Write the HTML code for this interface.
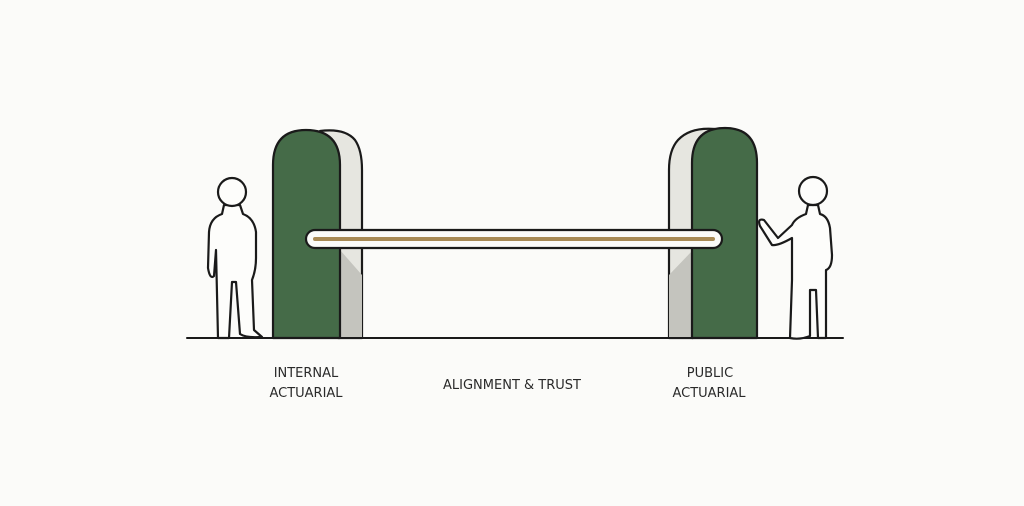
<!DOCTYPE html>
<html><head><style>
html,body{margin:0;padding:0;background:#fbfbf9;}
svg{display:block;}
text{font-family:"DejaVu Sans","Liberation Sans",sans-serif;font-size:13px;fill:#2a2a2a;text-anchor:middle;}
</style></head><body>
<svg width="1024" height="506" viewBox="0 0 1024 506" xmlns="http://www.w3.org/2000/svg">
<rect width="1024" height="506" fill="#fbfbf9"/>
<g stroke="#1a1a1a" stroke-width="2.2" stroke-linejoin="round" stroke-linecap="round">
<!-- left pillar side -->
<path d="M320 131 Q345 128 355 140 Q362 150 362 170 L362 338 L338 338 Z" fill="#e6e6e0"/>
<path d="M340 250 L362 275 L362 338 L340 338 Z" fill="#c4c4be" stroke="none"/>
<!-- left pillar front -->
<path d="M273 338 L273 165 Q273 130 306 130 Q340 130 340 165 L340 338 Z" fill="#456b48"/>
<!-- right pillar side -->
<path d="M715 129 Q690 127 678 140 Q669 150 669 170 L669 338 L693 338 Z" fill="#e6e6e0"/>
<path d="M693 250 L669 275 L669 338 L693 338 Z" fill="#c4c4be" stroke="none"/>
<!-- right pillar front -->
<path d="M692 338 L692 163 Q692 128 725 128 Q757 128 757 163 L757 338 Z" fill="#456b48"/>
<!-- bar -->
<rect x="306" y="230" width="416" height="18" rx="9" fill="#fbfbf9"/>
<line x1="315" y1="239" x2="713" y2="239" stroke="#a88a55" stroke-width="4"/>
<!-- ground -->
<line x1="187" y1="338" x2="843" y2="338" stroke-width="2"/>
<!-- left person -->
<g fill="#fdfdfb">
<path d="M224 205 L222 214 Q210 218 209 232 L208 268 Q210 280 214 276 L216 250 L218 338 L229 338 L232 282 L236 282 L240 334 Q246 338 262 337 L254 330 L252 280 Q256 270 256 258 L256 232 Q254 218 243 214 L240 205 Z"/>
<circle cx="232" cy="192" r="14"/>
<!-- right person -->
<path d="M808 205 L806 214 Q795 218 792 225 L778 238 L764 220 Q757 218 760 226 L772 245 Q778 246 792 238 L792 280 L790 338 Q800 340 810 336 L810 290 L816 290 L818 338 L826 338 L826 270 Q832 268 832 255 L830 228 Q828 216 820 214 L818 205 Z"/>
<circle cx="813" cy="191" r="14"/>
</g>
</g>
<text x="306" y="377">INTERNAL</text>
<text x="306" y="397">ACTUARIAL</text>
<text x="512" y="389">ALIGNMENT &amp; TRUST</text>
<text x="710" y="377">PUBLIC</text>
<text x="709" y="397">ACTUARIAL</text>
</svg>
</body></html>
